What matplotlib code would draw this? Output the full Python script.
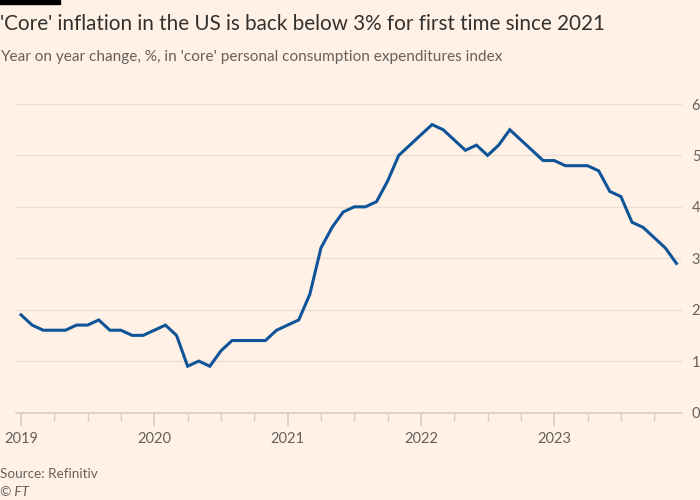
import matplotlib
matplotlib.use("Agg")
import matplotlib.pyplot as plt
from matplotlib.patches import Rectangle

# Monthly core PCE, year-on-year %, Jan 2019 - Dec 2023
values = [
    1.9, 1.7, 1.6, 1.6, 1.6, 1.7, 1.7, 1.8, 1.6, 1.6, 1.5, 1.5,   # 2019
    1.6, 1.7, 1.5, 0.9, 1.0, 0.9, 1.2, 1.4, 1.4, 1.4, 1.4, 1.6,   # 2020
    1.7, 1.8, 2.3, 3.2, 3.6, 3.9, 4.0, 4.0, 4.1, 4.5, 5.0, 5.2,   # 2021
    5.4, 5.6, 5.5, 5.3, 5.1, 5.2, 5.0, 5.2, 5.5, 5.3, 5.1, 4.9,   # 2022
    4.9, 4.8, 4.8, 4.8, 4.7, 4.3, 4.2, 3.7, 3.6, 3.4, 3.2, 2.9,   # 2023
]
year_labels = ["2019", "2020", "2021", "2022", "2023"]
y_ticks = [0, 1, 2, 3, 4, 5, 6]

BG = "#FFF1E5"
LINE = "#0F5499"
GRID = "#EBDFD5"
TEXT = "#66605C"
TITLE = "#33302E"

plt.rcParams["font.family"] = ["Lato", "DejaVu Sans"]

fig = plt.figure(figsize=(7, 5), dpi=100, facecolor=BG)
ax = fig.add_axes([16 / 700, 1 - 412.5 / 500, (682 - 16) / 700, (412.5 - 104) / 500])
ax.set_facecolor(BG)

months = list(range(len(values)))
ax.plot(months, values, color=LINE, lw=2.2, solid_joinstyle="miter", zorder=3)

ax.set_xlim(-0.45, 59.5)
ax.set_ylim(0, 6)

ax.set_yticks(y_ticks)
ax.set_yticklabels([str(t) for t in y_ticks])
ax.yaxis.tick_right()
ax.tick_params(axis="y", length=0, pad=7, labelsize=10.5, labelcolor=TEXT)
ax.grid(axis="y", color=GRID, lw=1)
ax.set_axisbelow(True)

ax.set_xticks([12 * i for i in range(len(year_labels))])
ax.set_xticklabels(year_labels)
ax.set_xticks([m for m in range(0, 60, 3) if m % 12 != 0], minor=True)
ax.tick_params(axis="x", which="major", length=9, width=1.2, color="#D9CCC1",
               labelsize=10.5, labelcolor=TEXT, pad=5)
ax.tick_params(axis="x", which="minor", length=6, width=1, color="#D9CCC1")

for s in ["top", "left", "right"]:
    ax.spines[s].set_visible(False)
ax.spines["bottom"].set_color("#D9CCC1")
ax.spines["bottom"].set_linewidth(1.2)

fig.patches.append(Rectangle((0, 1 - 4 / 500), 60 / 700, 4 / 500,
                             transform=fig.transFigure, color="black", zorder=5))
fig.text(0, 1 - 24 / 500, "'Core' inflation in the US is back below 3% for first time since 2021",
         fontsize=14.9, color=TITLE, va="center", ha="left")
fig.text(0, 1 - 57 / 500, "Year on year change, %, in 'core' personal consumption expenditures index",
         fontsize=11.1, color=TEXT, va="center", ha="left")
fig.text(0, 1 - 474 / 500, "Source: Refinitiv", fontsize=9.7, color=TEXT, va="center", ha="left")
fig.text(0, 1 - 492 / 500, "© FT", fontsize=9.7, color=TEXT, va="center", ha="left", style="italic")

fig.savefig("out.png", dpi=100, facecolor=BG)
